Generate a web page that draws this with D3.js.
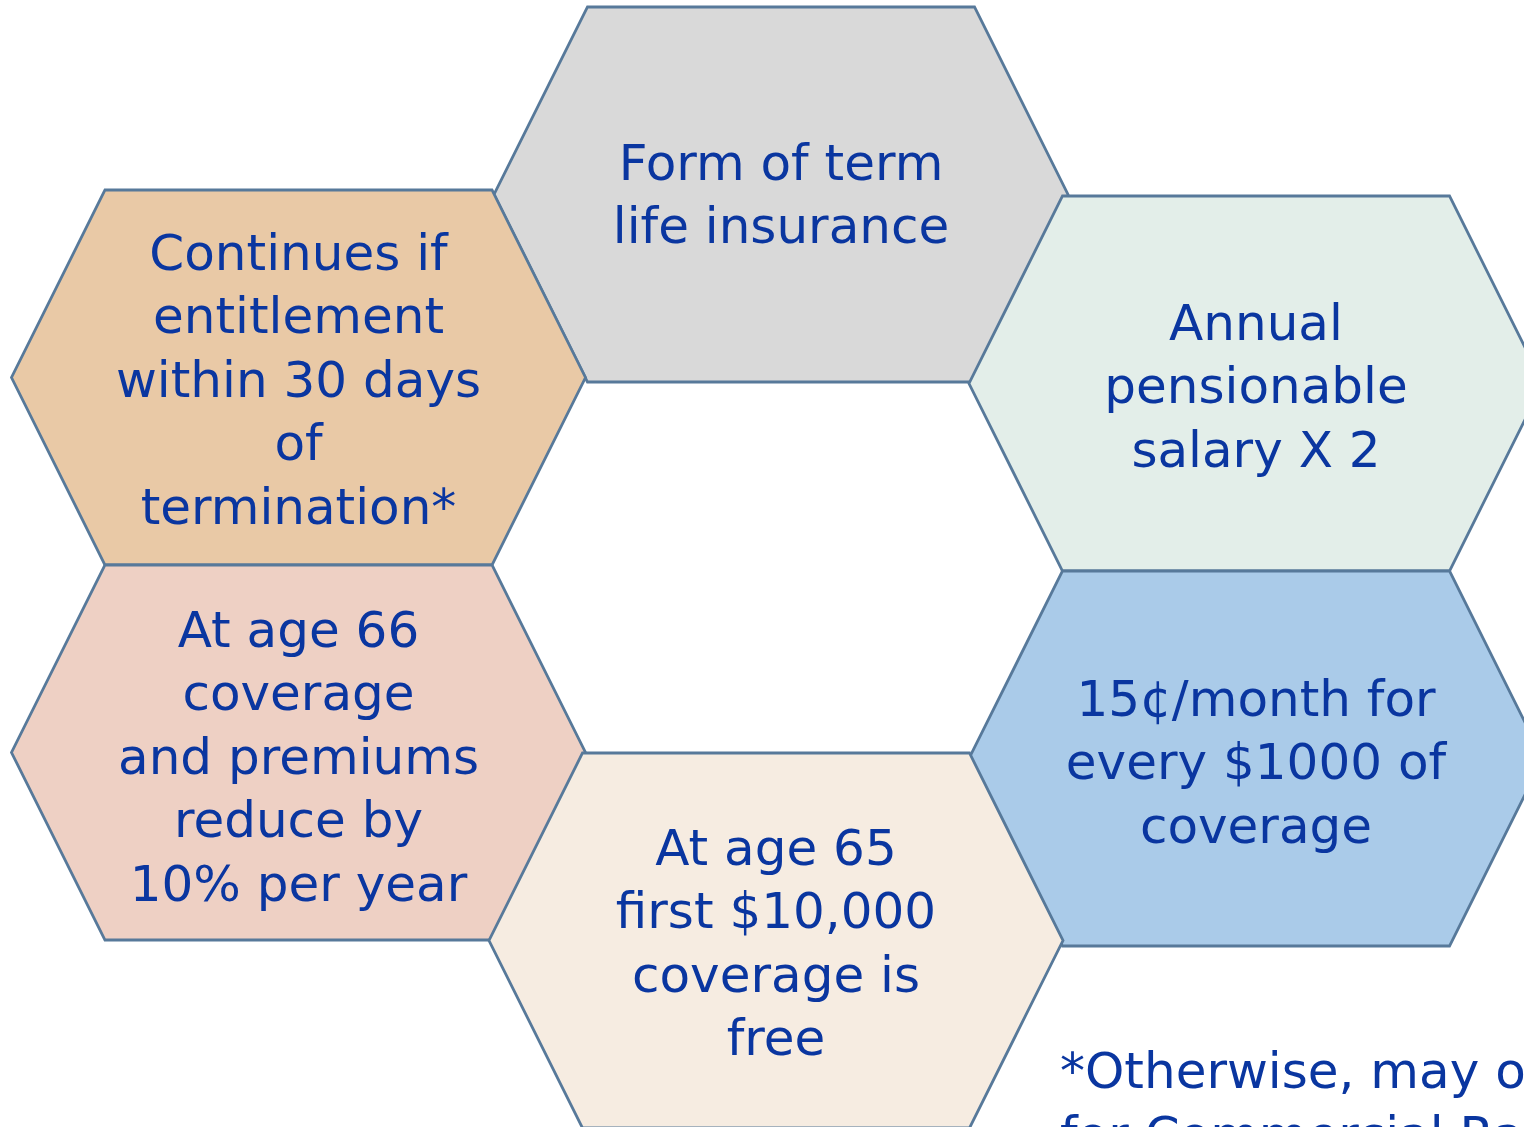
<!DOCTYPE html>
<html>
<head>
<meta charset="utf-8">
<script src="https://cdn.jsdelivr.net/npm/d3@7"></script>
<style>
  html, body { margin: 0; padding: 0; background: #fff; overflow: hidden; }
  svg { display: block; }
  .hex { stroke: #57799a; stroke-width: 2.8; stroke-linejoin: miter; }
  .label { font-family: 'DejaVu Sans', sans-serif; fill: #0a36a0; text-anchor: middle; }
  .note { font-family: 'DejaVu Sans', sans-serif; fill: #0a36a0; }
</style>
</head>
<body>
<svg id="hexes"></svg>
<script>
// svg size
const width = 1524;
const height = 1127;

// chart content
const names = ['term', 'continues', 'salary', 'age66', 'cost', 'age65'];

const labels = [
  ['Form of term', 'life insurance'],
  ['Continues if', 'entitlement', 'within 30 days', 'of', 'termination*'],
  ['Annual', 'pensionable', 'salary X 2'],
  ['At age 66', 'coverage', 'and premiums', 'reduce by', '10% per year'],
  ['15\u00a2/month for', 'every $1000 of', 'coverage'],
  ['At age 65', 'first $10,000', 'coverage is', 'free']
];

const footnote = ['*Otherwise, may opt', 'for Commercial Rate'];

// layout (not data): hexagon centres and text placement
const centers = {
  term: [781, 194.5],
  continues: [298.5, 377.5],
  salary: [1256, 383.5],
  age66: [298.5, 752.5],
  cost: [1256, 758.5],
  age65: [776, 940.5]
};

const fills = d3.scaleOrdinal()
                .domain(names)
                .range(['#d9d9d9', '#e9c9a6', '#e3eee9', '#eed0c4', '#aacbe9', '#f6ece1']);

// first baseline of each label, relative to its centre
const firstBaseline = {
  term: -15,
  continues: -108,
  salary: -44,
  age66: -106,
  cost: -43,
  age65: -76
};

const halfW = 287;     // centre to side point
const halfTop = 193.5; // centre to end of flat top
const halfH = 187.5;   // centre to top edge
const lineGap = 63.5;
const fontSize = 50;

const svg = d3.select('#hexes')
              .attr('width', width)
              .attr('height', height);

const hexPath = d3.line();

function hexPoints(c) {
  const [cx, cy] = c;
  return [
    [cx - halfTop, cy - halfH],
    [cx + halfTop, cy - halfH],
    [cx + halfW, cy],
    [cx + halfTop, cy + halfH],
    [cx - halfTop, cy + halfH],
    [cx - halfW, cy],
    [cx - halfTop, cy - halfH]
  ];
}

const cells = svg.selectAll('.cell')
                 .data(names)
                 .enter()
                 .append('g')
                 .attr('class', 'cell');

cells.append('path')
     .attr('class', 'hex')
     .attr('d', d => hexPath(hexPoints(centers[d])) + 'Z')
     .attr('fill', d => fills(d));

cells.append('text')
     .attr('class', 'label')
     .attr('font-size', fontSize)
     .each(function(d, i) {
       const [cx, cy] = centers[d];
       d3.select(this)
         .selectAll('tspan')
         .data(labels[i])
         .enter()
         .append('tspan')
         .attr('x', cx)
         .attr('y', (t, j) => cy + firstBaseline[d] + j * lineGap)
         .text(t => t);
     });

svg.append('text')
   .attr('class', 'note')
   .attr('font-size', fontSize)
   .selectAll('tspan')
   .data(footnote)
   .enter()
   .append('tspan')
   .attr('x', 1060)
   .attr('y', (t, j) => 1088 + j * lineGap)
   .text(t => t);
</script>
</body>
</html>
